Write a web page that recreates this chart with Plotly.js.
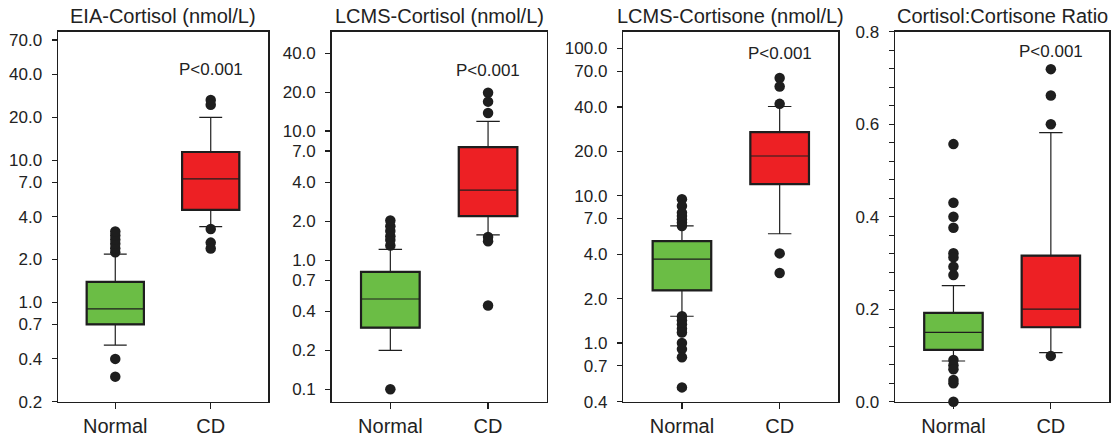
<!DOCTYPE html>
<html><head><meta charset="utf-8">
<script src="https://cdn.plot.ly/plotly-3.0.1.min.js"></script>
<style>html,body{margin:0;padding:0;background:#fff}#chart{width:1117px;height:443px}</style>
</head><body><div id="chart"></div>
<script>
// ---------- DATA ----------
const groups = ['Normal', 'CD'];
const panelTitles = ['EIA-Cortisol (nmol/L)', 'LCMS-Cortisol (nmol/L)', 'LCMS-Cortisone (nmol/L)', 'Cortisol:Cortisone Ratio'];
const pLabel = 'P<0.001';

// EIA-Cortisol  [Normal, CD]
const eiaLower  = [0.50, 3.41];
const eiaQ1     = [0.70, 4.47];
const eiaMedian = [0.90, 7.38];
const eiaQ3     = [1.39, 11.4];
const eiaUpper  = [2.18, 20.0];
const eiaOutNormal = [2.25, 2.40, 2.58, 2.76, 2.95, 3.15, 0.40, 0.30];
const eiaOutCD     = [26.5, 24.5, 3.28, 2.63, 2.39];
const eiaTicks = [0.2, 0.4, 0.7, 1, 2, 4, 7, 10, 20, 40, 70];

// LCMS-Cortisol
const lcfLower  = [0.20, 1.57];
const lcfQ1     = [0.30, 2.19];
const lcfMedian = [0.50, 3.49];
const lcfQ3     = [0.81, 7.5];
const lcfUpper  = [1.21, 11.9];
const lcfOutNormal = [1.30, 1.43, 1.53, 1.68, 1.83, 2.03, 0.10];
const lcfOutCD     = [19.8, 16.9, 13.8, 1.51, 1.40, 0.445];
const lcfTicks = [0.1, 0.2, 0.4, 0.7, 1, 2, 4, 7, 10, 20, 40];

// LCMS-Cortisone
const lceLower  = [1.52, 5.52];
const lceQ1     = [2.28, 12.0];
const lceMedian = [3.71, 18.6];
const lceQ3     = [4.92, 27.0];
const lceUpper  = [6.25, 40.3];
const lceOutNormal = [9.46, 8.51, 7.66, 7.28, 6.91, 6.55, 6.22, 1.52, 1.43, 1.34, 1.25, 1.18, 1.0, 0.91, 0.80, 0.50];
const lceOutCD     = [62.9, 55.1, 42.0, 4.06, 2.99];
const lceTicks = [0.4, 0.7, 1, 2, 4, 7, 10, 20, 40, 70, 100];

// Cortisol:Cortisone ratio
const ratLower  = [0.088, 0.106];
const ratQ1     = [0.112, 0.161];
const ratMedian = [0.150, 0.200];
const ratQ3     = [0.192, 0.316];
const ratUpper  = [0.251, 0.582];
const ratOutNormal = [0.557, 0.430, 0.400, 0.376, 0.321, 0.312, 0.292, 0.274, 0.090, 0.079, 0.070, 0.047, 0.040, 0.0];
const ratOutCD     = [0.719, 0.662, 0.600, 0.099];

// ---------- BUILD ----------
const panels = [
  {lo: eiaLower, q1: eiaQ1, med: eiaMedian, q3: eiaQ3, hi: eiaUpper, out: [eiaOutNormal, eiaOutCD], ticks: eiaTicks},
  {lo: lcfLower, q1: lcfQ1, med: lcfMedian, q3: lcfQ3, hi: lcfUpper, out: [lcfOutNormal, lcfOutCD], ticks: lcfTicks},
  {lo: lceLower, q1: lceQ1, med: lceMedian, q3: lceQ3, hi: lceUpper, out: [lceOutNormal, lceOutCD], ticks: lceTicks},
  {lo: ratLower, q1: ratQ1, med: ratMedian, q3: ratQ3, hi: ratUpper, out: [ratOutNormal, ratOutCD], ticks: null}
];

const W = 1117, H = 443;
const xPix = [[58, 268], [331.7, 546.7], [623.3, 838.3], [895, 1109.3]];
const yTop = 31.7, yBot = 401.7;
const yRanges = [[-0.699, 1.903], [-1.097, 1.77], [-0.398, 2.113], [0, 0.8]];
const pY = [70, 70.5, 53, 51.5];
const fills = ['#6BBD45', '#ED2024'];
const ink = '#1e1e1e';
const font = 'Liberation Sans, Arial, sans-serif';
const boxW = 0.6;

const data = [];
const layout = {
  width: W, height: H,
  margin: {l: 0, r: 0, t: 0, b: 0},
  paper_bgcolor: '#fff', plot_bgcolor: '#fff',
  showlegend: false,
  font: {family: font, color: '#222'},
  shapes: [], annotations: []
};

panels.forEach((p, i) => {
  const n = i + 1;
  const xa = 'x' + (n === 1 ? '' : n), ya = 'y' + (n === 1 ? '' : n);
  const xKey = 'xaxis' + (n === 1 ? '' : n), yKey = 'yaxis' + (n === 1 ? '' : n);
  groups.forEach((g, j) => {
    data.push({
      type: 'box', x: [g], q1: [p.q1[j]], median: [p.med[j]], q3: [p.q3[j]],
      lowerfence: [p.lo[j]], upperfence: [p.hi[j]],
      xaxis: xa, yaxis: ya, width: boxW, whiskerwidth: 0.4,
      fillcolor: fills[j], line: {color: ink, width: 1.2},
      boxpoints: false, hoverinfo: 'skip'
    });
    layout.shapes.push({
      type: 'rect', xref: xa, yref: ya, layer: 'above',
      x0: j - boxW / 2, x1: j + boxW / 2, y0: p.q1[j], y1: p.q3[j],
      line: {color: ink, width: 2.2}, fillcolor: 'rgba(0,0,0,0)'
    });
    data.push({
      type: 'scatter', mode: 'markers', x: p.out[j].map(() => g), y: p.out[j],
      xaxis: xa, yaxis: ya, cliponaxis: false, hoverinfo: 'skip',
      marker: {size: 10.5, color: ink}
    });
  });
  const d0 = xPix[i][0] / W, d1 = xPix[i][1] / W;
  layout[xKey] = {
    domain: [d0, d1], anchor: ya, type: 'category', categoryorder: 'array', categoryarray: groups,
    range: [-0.6, 1.6], showline: true, mirror: true, linecolor: ink, linewidth: 1.5,
    ticks: 'outside', ticklen: 6, tickwidth: 1.2, tickcolor: ink,
    tickfont: {size: 20, color: '#222', family: font}, showgrid: false, zeroline: false, fixedrange: true
  };
  const yax = {
    domain: [(H - yBot) / H, (H - yTop) / H], anchor: xa, range: yRanges[i],
    showline: true, mirror: true, linecolor: ink, linewidth: 1.5,
    ticks: 'outside', ticklen: 5, tickwidth: 1.2, tickcolor: ink, ticklabelstandoff: 6,
    tickfont: {size: 17, color: '#222', family: font}, showgrid: false, zeroline: false, fixedrange: true
  };
  if (p.ticks) {
    yax.type = 'log';
    yax.tickmode = 'array';
    yax.tickvals = p.ticks;
    yax.ticktext = p.ticks.map(v => v.toFixed(1));
  } else {
    yax.type = 'linear';
    yax.dtick = 0.2; yax.tick0 = 0; yax.tickformat = '.1f';
    yax.minor = {dtick: 0.04, ticks: 'outside', ticklen: 5, tickwidth: 1.2, tickcolor: ink, showgrid: false};
  }
  layout[yKey] = yax;
  layout.annotations.push({
    text: panelTitles[i], xref: 'paper', yref: 'paper', x: (d0 + d1) / 2, y: (H - 16) / H,
    xanchor: 'center', yanchor: 'middle', showarrow: false, font: {size: 20, color: '#222', family: font}
  });
  layout.annotations.push({
    text: pLabel, xref: xa, yref: 'paper', x: 1, y: (H - pY[i]) / H,
    xanchor: 'center', yanchor: 'middle', showarrow: false, font: {size: 17, color: '#222', family: font}
  });
});

Plotly.newPlot('chart', data, layout, {displayModeBar: false, staticPlot: true});
</script>
</body></html>
